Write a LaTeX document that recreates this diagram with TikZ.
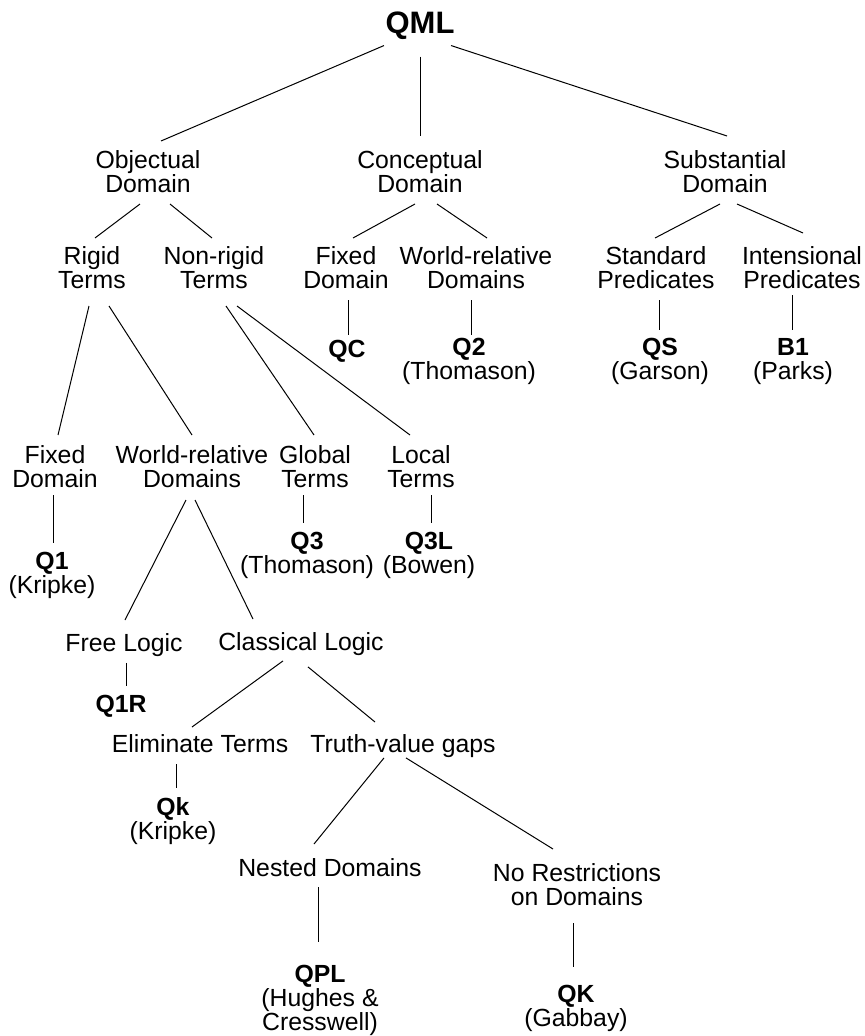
\documentclass[tikz,border=0pt]{standalone}
\usepackage{fontspec}
\setmainfont{Liberation Sans}
\usetikzlibrary{calc}

\begin{document}
\begin{tikzpicture}[
      x=0.5pt, y=-0.5pt,
      lbl/.style={align=center,inner sep=0pt,anchor=north,font=\fontsize{12.4}{12}\selectfont},
      sys/.style={lbl,font=\fontsize{12.4}{12}\selectfont},
      edge/.style={line width=0.5pt}
    ]
    \useasboundingbox (0,0) rectangle (865,1036);

    % root
    \node[lbl,font=\fontsize{15.5}{15}\selectfont\bfseries] (qml) at (420,11) {QML};

    % first level
    \node[lbl] (obj) at (148,150) {Objectual\\Domain};
    \node[lbl] (con) at (420,150) {Conceptual\\Domain};
    \node[lbl] (sub) at (725,150) {Substantial\\Domain};

    % second level
    \node[lbl] (rigid)    at (92,246)  {Rigid\\Terms};
    \node[lbl] (nonrigid) at (214,246) {Non-rigid\\Terms};
    \node[lbl] (cfixed)   at (346,246) {Fixed\\Domain};
    \node[lbl] (cworld)   at (476,246) {World-relative\\Domains};
    \node[lbl] (stdp)     at (656,246) {Standard\\Predicates};
    \node[lbl] (intp)     at (802,246) {Intensional\\Predicates};

    \node[sys] (qc) at (347,340) {\textbf{QC}};
    \node[sys] (q2) at (469,338) {\textbf{Q2}\\(Thomason)};
    \node[sys] (qs) at (660,338) {\textbf{QS}\\(Garson)};
    \node[sys] (b1) at (793,338) {\textbf{B1}\\(Parks)};

    % third level
    \node[lbl] (lfixed) at (55,445)  {Fixed\\Domain};
    \node[lbl] (lworld) at (192,445) {World-relative\\Domains};
    \node[lbl] (glob)   at (315,445) {Global\\Terms};
    \node[lbl] (loc)    at (421,445) {Local\\Terms};

    \node[sys] (q1)  at (52,552)  {\textbf{Q1}\\(Kripke)};
    \node[sys] (q3)  at (307,532) {\textbf{Q3}\\(Thomason)};
    \node[sys] (q3l) at (429,532) {\textbf{Q3L}\\(Bowen)};

    % free vs classical
    \node[lbl] (free)  at (124,633) {Free Logic};
    \node[lbl] (class) at (301,632) {Classical Logic};
    \node[sys] (q1r)   at (121,695) {\textbf{Q1R}};

    \node[lbl] (elim)  at (200,734) {Eliminate Terms};
    \node[lbl] (truth) at (403,734) {Truth-value gaps};
    \node[sys] (qk)    at (173,797) {\textbf{Qk}\\(Kripke)};

    \node[lbl] (nested)  at (330,858) {Nested Domains};
    \node[lbl] (norestr) at (577,863) {No Restrictions\\on Domains};

    \node[sys] (qpl) at (320,965) {\textbf{QPL}\\(Hughes \&\\Cresswell)};
    \node[sys] (qkg) at (576,985) {\textbf{QK}\\(Gabbay)};

    % connectors
    \draw[edge] ($(qml.south)+(-36,6)$) -- ($(obj.north)+(13,-9)$);
    \draw[edge] ($(qml.south)+(0,17)$) -- ($(con.north)+(0,-14)$);
    \draw[edge] ($(qml.south)+(31,6)$) -- ($(sub.north)+(2,-14)$);

    \draw[edge] ($(obj.south)+(-8,11)$) -- ($(rigid.north)+(3,-8)$);
    \draw[edge] ($(obj.south)+(22,11)$) -- ($(nonrigid.north)+(-2,-8)$);
    \draw[edge] ($(con.south)+(-5,11)$) -- ($(cfixed.north)+(7,-8)$);
    \draw[edge] ($(con.south)+(17,11)$) -- ($(cworld.north)+(11,-8)$);
    \draw[edge] ($(sub.south)+(-5,11)$) -- ($(stdp.north)+(-1,-8)$);
    \draw[edge] ($(sub.south)+(12,11)$) -- ($(intp.north)+(1,-13)$);

    \draw[edge] ($(cfixed.south)+(2,11)$) -- ($(qc.north)+(1,-5)$);
    \draw[edge] ($(cworld.south)+(-5,11)$) -- ($(q2.north)+(2,-3)$);
    \draw[edge] ($(stdp.south)+(3,11)$) -- ($(qs.north)+(-1,-8)$);
    \draw[edge] ($(intp.south)+(-10,6)$) -- ($(b1.north)+(-1,-8)$);

    \draw[edge] ($(rigid.south)+(-3,17)$) -- ($(lfixed.north)+(3,-10)$);
    \draw[edge] ($(rigid.south)+(17,17)$) -- ($(lworld.north)+(0,-10)$);
    \draw[edge] ($(nonrigid.south)+(12,17)$) -- ($(glob.north)+(-1,-10)$);
    \draw[edge] ($(nonrigid.south)+(23,17)$) -- ($(loc.north)+(-11,-10)$);

    \draw[edge] ($(lfixed.south)+(-2,7)$) -- ($(q1.north)+(1,-9)$);
    \draw[edge] ($(glob.south)+(-12,7)$) -- ($(q3.north)+(-4,-9)$);
    \draw[edge] ($(loc.south)+(10,7)$) -- ($(q3l.north)+(2,-9)$);

    \draw[edge] ($(lworld.south)+(-6,12)$) -- ($(free.north)+(1,-13)$);
    \draw[edge] ($(lworld.south)+(3,12)$) -- ($(class.north)+(-48,-13)$);

    \draw[edge] ($(free.south)+(2,6)$) -- ($(q1r.north)+(5,-9)$);
    \draw[edge] ($(class.south)+(-18,5)$) -- ($(elim.north)+(-8,-7)$);
    \draw[edge] ($(class.south)+(7,11)$) -- ($(truth.north)+(-28,-12)$);

    \draw[edge] ($(elim.south)+(-24,11)$) -- ($(qk.north)+(3,-9)$);
    \draw[edge] ($(truth.south)+(-19,0)$) -- ($(nested.north)+(-16,-14)$);
    \draw[edge] ($(truth.south)+(3,0)$) -- ($(norestr.north)+(-24,-14)$);

    \draw[edge] ($(nested.south)+(-12,10)$) -- ($(qpl.north)+(-2,-23)$);
    \draw[edge] ($(norestr.south)+(-4,17)$) -- ($(qkg.north)+(-3,-18)$);
  \end{tikzpicture}
\end{document}
